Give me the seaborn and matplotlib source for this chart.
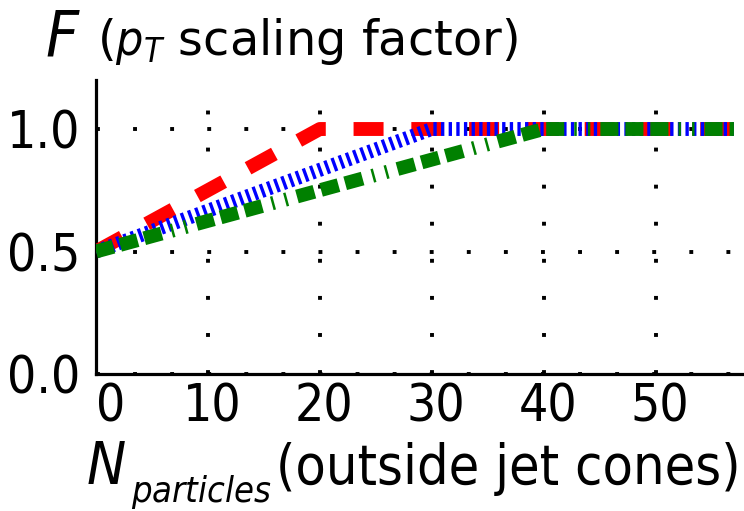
import matplotlib
matplotlib.use("Agg")
import matplotlib.pyplot as plt
import matplotlib.transforms as mtransforms
import seaborn as sns
import pandas as pd

# breakpoints of the three scaling curves
red_x = [0, 20, 57]
red_y = [0.5, 1.0, 1.0]
blue_x = [0, 30, 57]
blue_y = [0.5, 1.0, 1.0]
green_x = [0, 40, 57]
green_y = [0.5, 1.0, 1.0]

x_ticks = [0, 10, 20, 30, 40, 50]
y_ticks = [0.0, 0.5, 1.0]

sns.set_style("white")
plt.rcParams["font.family"] = ["DejaVu Sans"]
plt.rcParams["font.stretch"] = "condensed"
plt.rcParams["text.color"] = "black"
plt.rcParams["xtick.color"] = "black"
plt.rcParams["ytick.color"] = "black"
plt.rcParams["mathtext.fontset"] = "dejavusans"
plt.rcParams["lines.scale_dashes"] = False

fig = plt.figure(figsize=(7.44, 5.11), dpi=100)
ax = fig.add_axes([96 / 744, 1 - 374 / 511, 648 / 744, 294 / 511])

red = pd.DataFrame({"n": red_x, "f": red_y})
blue = pd.DataFrame({"n": blue_x, "f": blue_y})
green = pd.DataFrame({"n": green_x, "f": green_y})

sns.lineplot(data=red, x="n", y="f", ax=ax, color="#ff0000", lw=10,
             linestyle=(0, (21.6, 20)), zorder=3)
sns.lineplot(data=blue, x="n", y="f", ax=ax, color="#0000ff", lw=10,
             linestyle=(0, (2.4, 3.1)), zorder=4)
sns.lineplot(data=green, x="n", y="f", ax=ax, color="#008000", lw=10,
             linestyle=(0, (13, 5, 13, 5, 13, 7.2, 1.8, 8, 1.8, 7.2)), zorder=5)
for ln in ax.lines:
    ln.set_dash_capstyle("butt")

ax.set_xlim(0, 57.9)
ax.set_ylim(0, 1.2)
ax.set_xticks(x_ticks)
ax.set_yticks(y_ticks)
ax.set_yticklabels([f"{v:.1f}" for v in y_ticks])
ax.tick_params(length=0, labelsize=37)
ax.tick_params(axis="y", pad=11)
ax.tick_params(axis="x", pad=6)
ax.set_xlabel("")
ax.set_ylabel("")

# x tick labels sit a little right of their grid lines; the 0 starts at the spine
shift = mtransforms.ScaledTranslation(4 / 100, 0, fig.dpi_scale_trans)
for i, lab in enumerate(ax.get_xticklabels()):
    if i == 0:
        lab.set_horizontalalignment("left")
    else:
        lab.set_transform(lab.get_transform() + shift)

ax.grid(True, color="black", lw=2.8, linestyle=(0, (2.8, 23.9)))
sns.despine(ax=ax)
for s in ["left", "bottom"]:
    ax.spines[s].set_linewidth(2.3)
    ax.spines[s].set_color("black")

# axis titles placed freely, as in the original
fig.text(45 / 744, 1 - 55 / 511, r"$F$", fontsize=46, va="baseline")
fig.text(97 / 744, 1 - 55 / 511, r"($p_T$ scaling factor)", fontsize=34.5,
         fontstretch="normal", va="baseline")
fig.text(86 / 744, 1 - 484 / 511, r"$N$", fontsize=42, va="baseline")
fig.text(131 / 744, 1 - 502 / 511, r"$particles$", fontsize=26, va="baseline")
fig.text(276 / 744, 1 - 484 / 511, "(outside jet cones)", fontsize=40, va="baseline")

fig.savefig("out.png", dpi=100)
